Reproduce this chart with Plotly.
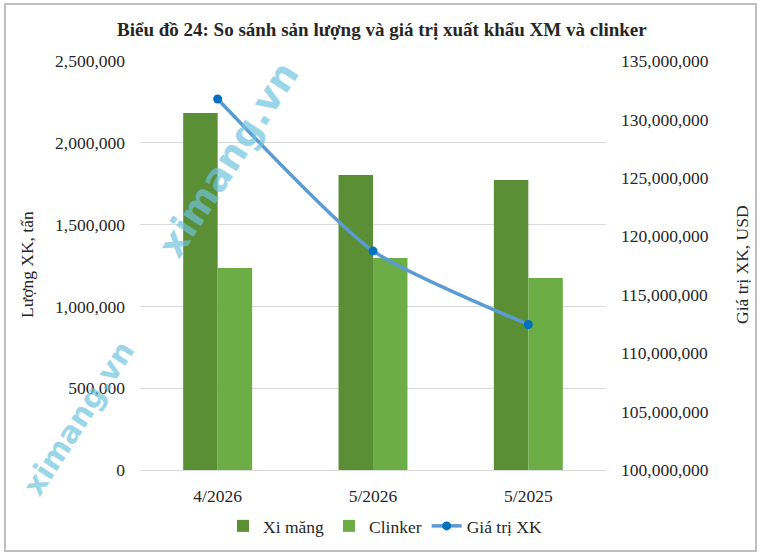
import plotly.graph_objects as go

categories = ["4/2026", "5/2026", "5/2025"]
xi_mang = [2182000, 1803000, 1773000]
clinker = [1235000, 1296000, 1174000]
gia_tri = [131750000, 118750000, 112450000]

left_ticks = [0, 500000, 1000000, 1500000, 2000000, 2500000]
right_ticks = [100000000 + 5000000 * i for i in range(8)]

W, H = 765, 558
L, R, T, B = 140, 606, 61, 470

def px(x):
    return (x - L) / (R - L)

def py(y):
    return (B - y) / (B - T)

serif = "Liberation Serif"
fs = 17.5

fig = go.Figure()
fig.add_trace(go.Bar(x=categories, y=xi_mang, name="Xi măng",
                     marker=dict(color="#5B8F36", line=dict(width=0))))
fig.add_trace(go.Bar(x=categories, y=clinker, name="Clinker",
                     marker=dict(color="#6DAD45", line=dict(width=0))))
fig.add_trace(go.Scatter(x=categories, y=gia_tri, name="Giá trị XK", yaxis="y2",
                         mode="lines+markers",
                         line=dict(color="#5B9BD5", width=3.5, shape="spline", smoothing=0.6),
                         marker=dict(color="#0070C0", size=9)))

fig.update_layout(
    width=W, height=H,
    margin=dict(l=L, r=W - R, t=T, b=H - B),
    paper_bgcolor="white", plot_bgcolor="white",
    barmode="group", bargap=0.556, bargroupgap=0,
    font=dict(family=serif, size=fs, color="#262626"),
    showlegend=True,
    legend=dict(orientation="h", x=px(385), y=py(526), xanchor="center", yanchor="middle",
                font=dict(family=serif, size=fs, color="#262626"), traceorder="normal",
                itemwidth=30, bgcolor="rgba(0,0,0,0)"),
    xaxis=dict(showline=True, linecolor="#d9d9d9", linewidth=1, ticks="",
               tickfont=dict(family=serif, size=fs, color="#262626"),
               ticklabelstandoff=10),
    yaxis=dict(range=[0, 2500000], tickvals=left_ticks, tickformat=",d",
               showgrid=True, gridcolor="#d9d9d9", gridwidth=1, zeroline=False,
               tickfont=dict(family=serif, size=fs, color="#262626"),
               ticklabelstandoff=14),
    yaxis2=dict(range=[100000000, 135000000], tickvals=right_ticks, tickformat=",d",
                overlaying="y", side="right", showgrid=False, zeroline=False,
                tickfont=dict(family=serif, size=fs, color="#262626"),
                ticklabelstandoff=14),
)

# title
fig.add_annotation(text="<b>Biểu đồ 24: So sánh sản lượng và giá trị xuất khẩu XM và clinker</b>",
                   xref="paper", yref="paper", x=px(382), y=py(30), xanchor="center", yanchor="middle",
                   showarrow=False, font=dict(family=serif, size=19, color="#262626"))
# axis titles
fig.add_annotation(text="Lượng XK, tấn", xref="paper", yref="paper", x=px(27), y=py(265),
                   textangle=-90, showarrow=False, xanchor="center", yanchor="middle",
                   font=dict(family=serif, size=fs, color="#262626"))
fig.add_annotation(text="Giá trị XK, USD", xref="paper", yref="paper", x=px(742), y=py(265),
                   textangle=-90, showarrow=False, xanchor="center", yanchor="middle",
                   font=dict(family=serif, size=fs, color="#262626"))

# watermarks
for cx, cy, sz in [(228, 160, 38), (78, 418, 30)]:
    fig.add_annotation(text="<b>ximang.vn</b>", xref="paper", yref="paper", x=px(cx), y=py(cy),
                       textangle=-57, showarrow=False, xanchor="center", yanchor="middle",
                       font=dict(family="DejaVu Sans", size=sz, color="rgba(110,195,222,0.7)"))

# frame
fig.add_shape(type="rect", xref="paper", yref="paper",
              x0=px(5), x1=px(756), y0=py(551), y1=py(4),
              line=dict(color="#bfbfbf", width=2), layer="below")

fig.write_html("out.html")
